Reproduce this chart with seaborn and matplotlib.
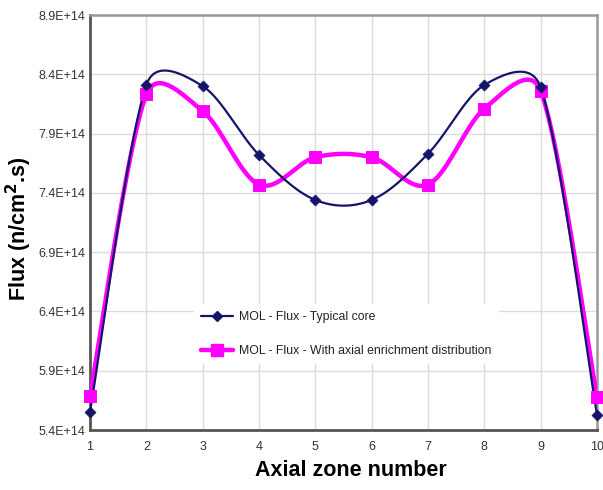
import numpy as np
import pandas as pd
import matplotlib
matplotlib.use("Agg")
import matplotlib.pyplot as plt
from matplotlib.lines import Line2D
from matplotlib.ticker import MultipleLocator
import seaborn as sns

zones = [1, 2, 3, 4, 5, 6, 7, 8, 9, 10]
typical = [5.55e14, 8.31e14, 8.30e14, 7.72e14, 7.34e14, 7.34e14, 7.73e14, 8.31e14, 8.29e14, 5.53e14]
enriched = [5.69e14, 8.23e14, 8.09e14, 7.47e14, 7.70e14, 7.70e14, 7.47e14, 8.11e14, 8.26e14, 5.68e14]
ytick_vals = [5.4e14, 5.9e14, 6.4e14, 6.9e14, 7.4e14, 7.9e14, 8.4e14, 8.9e14]
ytick_labels = ["5.4E+14", "5.9E+14", "6.4E+14", "6.9E+14", "7.4E+14", "7.9E+14", "8.4E+14", "8.9E+14"]
label_typ = "MOL - Flux - Typical core"
label_enr = "MOL - Flux - With axial enrichment distribution"


def smooth(ax, xs, ys, n=40):
    """Excel-like smoothed line, computed in display space (Murphy's rule)."""
    pts = ax.transData.transform(np.column_stack([xs, ys]))
    P = np.vstack([pts[0], pts, pts[-1]])
    out = []
    for i in range(1, len(P) - 2):
        p0, p1, p2, p3 = P[i - 1], P[i], P[i + 1], P[i + 2]
        d12 = np.hypot(*(p2 - p1))
        d02 = np.hypot(*(p2 - p0))
        d13 = np.hypot(*(p3 - p1))
        f0 = 1 / 6 if d02 / 6 < d12 / 2 else (d12 / 2) / d02 if d02 > 0 else 0
        f3 = 1 / 6 if d13 / 6 < d12 / 2 else (d12 / 2) / d13 if d13 > 0 else 0
        c1 = p1 + (p2 - p0) * f0
        c2 = p2 - (p3 - p1) * f3
        t = np.linspace(0, 1, n)[:, None]
        b = ((1 - t) ** 3) * p1 + 3 * ((1 - t) ** 2) * t * c1 + 3 * (1 - t) * t ** 2 * c2 + t ** 3 * p2
        out.append(b)
    out = np.vstack(out)
    d = ax.transData.inverted().transform(out)
    return d[:, 0], d[:, 1]


sns.set_style("white")
plt.rcParams["font.family"] = ["Liberation Sans", "DejaVu Sans"]

fig = plt.figure(figsize=(6.03, 4.90), dpi=100)
ax = fig.add_axes([90 / 603, 60 / 490, 507 / 603, 415 / 490])
ax.set_xlim(1, 10)
ax.set_ylim(5.4e14, 8.9e14)

navy = "#14146b"
mag = "#ff00ff"

sx, sy = smooth(ax, zones, typical)
ex, ey = smooth(ax, zones, enriched)
sns.lineplot(x=ex, y=ey, ax=ax, color=mag, linewidth=3.2, sort=False, zorder=3)
sns.lineplot(x=sx, y=sy, ax=ax, color=navy, linewidth=1.6, sort=False, zorder=4)
sns.scatterplot(x=zones, y=enriched, ax=ax, color=mag, marker="s", s=75, edgecolor=mag, zorder=5, clip_on=False)
sns.scatterplot(x=zones, y=typical, ax=ax, color=navy, marker="D", s=32, edgecolor=navy, zorder=6, clip_on=False)

ax.set_xlim(1, 10)
ax.set_ylim(5.4e14, 8.9e14)
ax.set_xticks(zones)
ax.set_xticklabels([str(z) for z in zones])
ax.set_yticks(ytick_vals)
ax.set_yticklabels(ytick_labels)
ax.xaxis.set_minor_locator(MultipleLocator(0.2))
ax.yaxis.set_minor_locator(MultipleLocator(0.1e14))
ax.tick_params(which="both", direction="in", colors="#555555", labelcolor="#333333", labelsize=9)
ax.tick_params(which="major", length=4)
ax.tick_params(which="minor", length=3)
ax.tick_params(axis="x", pad=8)
ax.grid(True, which="major", color="#dcdcdc", linewidth=1.0)
ax.set_axisbelow(True)

for side in ["left", "bottom"]:
    ax.spines[side].set_color("#555555")
    ax.spines[side].set_linewidth(2.0)
for side in ["top", "right"]:
    ax.spines[side].set_color("#999999")
    ax.spines[side].set_linewidth(1.8)

ax.set_xlabel("Axial zone number", fontsize=15.5, fontweight="bold", color="black")
ax.xaxis.set_label_coords(351 / 603 * 603 / 507 - 90 / 507, -40 / 415)
ax.xaxis.label.set_verticalalignment("center")
ax.set_ylabel("Flux (n/cm$^{\\mathbf{2}}$.s)", fontsize=15.5, fontweight="bold", color="black")
ax.yaxis.set_label_coords(-71 / 507, (430 - 229) / 415)
ax.yaxis.label.set_verticalalignment("center")

handles = [
    Line2D([], [], color=navy, linewidth=1.6, marker="D", markersize=5.5),
    Line2D([], [], color=mag, linewidth=3.2, marker="s", markersize=8.5),
]
leg = ax.legend(handles, [label_typ, label_enr], loc="upper left",
                bbox_to_anchor=(98 / 507, 132 / 415), frameon=True, fontsize=8.8,
                handlelength=2.6, labelspacing=1.75, handletextpad=0.5, borderpad=0.6)
for t in leg.get_texts():
    t.set_color("#222222")
leg.get_frame().set_facecolor("white")
leg.get_frame().set_edgecolor("none")
leg.get_frame().set_alpha(1.0)
leg.get_frame().set_boxstyle("square", pad=0)
leg.set_zorder(10)

fig.savefig("out.png", dpi=100)
